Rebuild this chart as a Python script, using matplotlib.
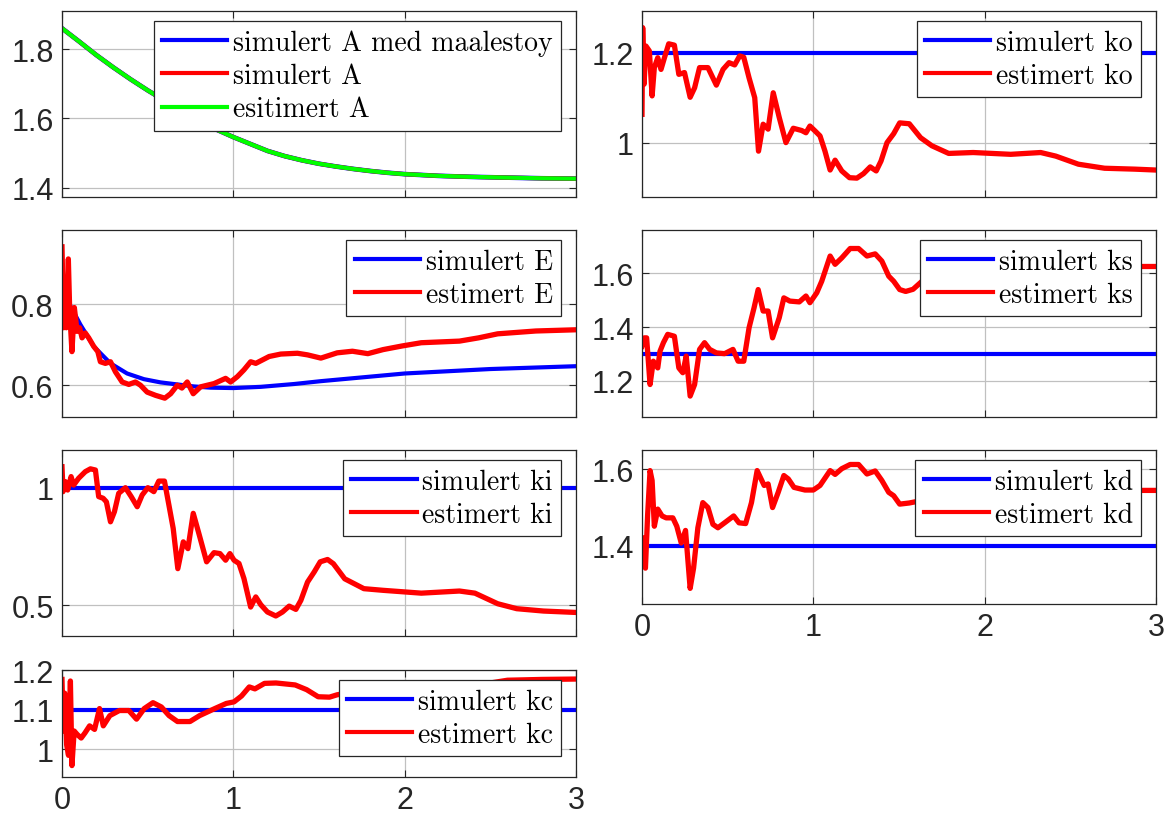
import numpy as np
import matplotlib.pyplot as plt
from matplotlib.ticker import FormatStrFormatter

# ---- data ----
t_A = [0, 0.1, 0.2, 0.3, 0.4, 0.5, 0.6, 0.7, 0.8, 0.9, 1.0, 1.1, 1.2, 1.3, 1.4, 1.5,
       1.6, 1.7, 1.8, 1.9, 2.0, 2.2, 2.4, 2.6, 2.8, 3.0]
A_sim = [1.860, 1.822, 1.783, 1.747, 1.713, 1.681, 1.651, 1.622, 1.594, 1.568, 1.546,
         1.526, 1.506, 1.491, 1.479, 1.469, 1.461, 1.454, 1.448, 1.443, 1.439, 1.434,
         1.431, 1.429, 1.427, 1.426]

t_E_sim = [0, 0.039, 0.107, 0.185, 0.283, 0.38, 0.478, 0.575, 0.672, 0.77, 0.867, 1.0,
           1.16, 1.355, 1.51, 2.0, 2.5, 3.0]
E_sim = [0.83, 0.804, 0.75, 0.696, 0.654, 0.629, 0.615, 0.607, 0.602, 0.597, 0.594,
         0.593, 0.596, 0.603, 0.61, 0.629, 0.640, 0.647]
t_E_est = [0, 0.0097, 0.0195, 0.025, 0.037, 0.045, 0.058, 0.072, 0.088, 0.103, 0.117,
           0.136, 0.156, 0.185, 0.209, 0.224, 0.253, 0.283, 0.312, 0.351, 0.39, 0.429,
           0.458, 0.497, 0.546, 0.60, 0.634, 0.673, 0.70, 0.731, 0.766, 0.809, 0.887,
           0.955, 0.984, 1.023, 1.062, 1.101, 1.131, 1.209, 1.277, 1.374, 1.433, 1.511,
           1.606, 1.695, 1.785, 1.874, 1.985, 2.097, 2.32, 2.431, 2.543, 2.766, 3.0]
E_est = [0.942, 0.742, 0.858, 0.742, 0.912, 0.783, 0.683, 0.792, 0.733, 0.742, 0.717,
         0.729, 0.717, 0.696, 0.683, 0.658, 0.654, 0.658, 0.633, 0.608, 0.602, 0.608,
         0.600, 0.583, 0.575, 0.568, 0.579, 0.600, 0.593, 0.608, 0.579, 0.596, 0.604,
         0.617, 0.608, 0.621, 0.638, 0.658, 0.654, 0.671, 0.677, 0.679, 0.675, 0.667,
         0.680, 0.684, 0.678, 0.688, 0.697, 0.705, 0.709, 0.717, 0.727, 0.734, 0.737]

t_ki = [0, 0.006, 0.019, 0.033, 0.053, 0.068, 0.097, 0.136, 0.166, 0.195, 0.214, 0.24,
        0.259, 0.283, 0.306, 0.331, 0.37, 0.404, 0.439, 0.468, 0.501, 0.536, 0.565,
        0.598, 0.624, 0.649, 0.676, 0.708, 0.735, 0.766, 0.799, 0.844, 0.887, 0.922,
        0.955, 0.98, 1.004, 1.033, 1.062, 1.101, 1.131, 1.16, 1.199, 1.248, 1.287,
        1.326, 1.365, 1.394, 1.433, 1.472, 1.507, 1.55, 1.584, 1.65, 1.762, 1.874,
        2.097, 2.32, 2.41, 2.543, 2.654, 2.81, 3.0]
ki_est = [1.089, 0.983, 1.026, 0.99, 1.047, 1.011, 1.04, 1.068, 1.08, 1.075, 0.962,
          0.955, 0.94, 0.855, 0.898, 0.976, 1.0, 0.962, 0.919, 0.969, 1.0, 0.983, 1.028,
          1.028, 0.926, 0.827, 0.656, 0.77, 0.741, 0.891, 0.805, 0.685, 0.724, 0.72,
          0.692, 0.72, 0.692, 0.678, 0.614, 0.493, 0.536, 0.503, 0.472, 0.455, 0.472,
          0.497, 0.483, 0.521, 0.599, 0.642, 0.685, 0.695, 0.677, 0.613, 0.571, 0.564,
          0.552, 0.561, 0.552, 0.507, 0.486, 0.476, 0.470]

t_kc = [0, 0.007, 0.016, 0.027, 0.038, 0.049, 0.058, 0.071, 0.089, 0.112, 0.134, 0.161,
        0.19, 0.219, 0.241, 0.279, 0.335, 0.39, 0.435, 0.48, 0.531, 0.58, 0.625, 0.674,
        0.747, 0.803, 0.892, 0.959, 1.004, 1.048, 1.093, 1.126, 1.182, 1.249, 1.361,
        1.428, 1.495, 1.561, 1.606, 1.7, 1.9, 2.1, 2.3, 2.5, 2.6, 2.8, 3.0]
kc_est = [1.177, 1.046, 1.142, 1.011, 0.984, 1.173, 0.958, 1.046, 1.037, 1.028, 1.041,
          1.059, 1.05, 1.103, 1.059, 1.085, 1.098, 1.098, 1.076, 1.103, 1.118, 1.107,
          1.085, 1.07, 1.07, 1.085, 1.103, 1.116, 1.12, 1.135, 1.158, 1.153, 1.167,
          1.168, 1.163, 1.151, 1.133, 1.132, 1.138, 1.145, 1.152, 1.155, 1.158, 1.168,
          1.175, 1.177, 1.178]

t_ko = [0, 0.004, 0.012, 0.023, 0.043, 0.059, 0.072, 0.092, 0.111, 0.131, 0.156, 0.189,
        0.215, 0.248, 0.281, 0.307, 0.336, 0.385, 0.434, 0.473, 0.508, 0.541, 0.57,
        0.594, 0.625, 0.658, 0.68, 0.707, 0.736, 0.766, 0.801, 0.84, 0.883, 0.932,
        0.957, 0.98, 1.01, 1.039, 1.068, 1.098, 1.127, 1.166, 1.211, 1.254, 1.293,
        1.332, 1.367, 1.395, 1.43, 1.469, 1.504, 1.56, 1.626, 1.692, 1.79, 1.933,
        2.152, 2.327, 2.415, 2.547, 2.7, 2.876, 3.0]
ko_est = [1.063, 1.256, 1.13, 1.215, 1.204, 1.104, 1.167, 1.189, 1.163, 1.189, 1.22,
          1.217, 1.152, 1.156, 1.101, 1.122, 1.167, 1.167, 1.128, 1.163, 1.178, 1.173,
          1.193, 1.19, 1.144, 1.1, 0.981, 1.041, 1.03, 1.111, 1.056, 1.0, 1.032, 1.027,
          1.022, 1.037, 1.026, 1.015, 0.981, 0.939, 0.961, 0.937, 0.922, 0.921, 0.931,
          0.946, 0.937, 0.959, 1.0, 1.02, 1.044, 1.042, 1.011, 0.993, 0.976, 0.978,
          0.974, 0.978, 0.970, 0.952, 0.943, 0.941, 0.939]

t_ks = [0, 0.014, 0.027, 0.047, 0.066, 0.092, 0.105, 0.125, 0.15, 0.189, 0.215, 0.238,
        0.258, 0.281, 0.307, 0.336, 0.365, 0.395, 0.434, 0.482, 0.531, 0.561, 0.594,
        0.625, 0.654, 0.678, 0.707, 0.736, 0.762, 0.801, 0.828, 0.863, 0.918, 0.957,
        0.98, 1.02, 1.049, 1.098, 1.127, 1.166, 1.215, 1.264, 1.313, 1.361, 1.4, 1.44,
        1.469, 1.504, 1.539, 1.582, 1.65, 1.75, 1.9, 2.1, 2.3, 2.45, 2.6, 2.8, 3.0]
ks_est = [1.329, 1.36, 1.36, 1.186, 1.273, 1.248, 1.31, 1.342, 1.373, 1.366, 1.248,
          1.23, 1.292, 1.143, 1.186, 1.317, 1.342, 1.317, 1.304, 1.301, 1.317, 1.273,
          1.273, 1.398, 1.472, 1.54, 1.46, 1.46, 1.36, 1.435, 1.509, 1.497, 1.494,
          1.516, 1.491, 1.528, 1.571, 1.665, 1.634, 1.658, 1.693, 1.693, 1.665, 1.673,
          1.646, 1.59, 1.571, 1.54, 1.533, 1.541, 1.58, 1.60, 1.61, 1.61, 1.61, 1.615,
          1.622, 1.626, 1.626]

t_kd = [0, 0.008, 0.02, 0.033, 0.047, 0.059, 0.072, 0.092, 0.117, 0.141, 0.18, 0.203,
        0.229, 0.254, 0.281, 0.301, 0.326, 0.355, 0.385, 0.414, 0.443, 0.482, 0.535,
        0.566, 0.605, 0.639, 0.672, 0.713, 0.736, 0.762, 0.795, 0.828, 0.854, 0.887,
        0.951, 1.0, 1.039, 1.098, 1.127, 1.166, 1.215, 1.264, 1.313, 1.361, 1.40, 1.44,
        1.469, 1.504, 1.56, 1.65, 1.75, 2.0, 2.3, 2.5, 2.8, 3.0]
kd_est = [1.42, 1.394, 1.341, 1.482, 1.597, 1.571, 1.451, 1.496, 1.478, 1.473, 1.473,
          1.451, 1.407, 1.44, 1.288, 1.341, 1.447, 1.513, 1.5, 1.456, 1.447, 1.46,
          1.478, 1.46, 1.458, 1.513, 1.597, 1.558, 1.562, 1.5, 1.54, 1.584, 1.575,
          1.553, 1.546, 1.546, 1.558, 1.597, 1.587, 1.602, 1.613, 1.613, 1.588, 1.596,
          1.571, 1.54, 1.531, 1.509, 1.512, 1.52, 1.535, 1.54, 1.54, 1.542, 1.545, 1.545]

t_const = [0, 3]
ki_sim = [1.0, 1.0]
kc_sim = [1.1, 1.1]
ko_sim = [1.2, 1.2]
ks_sim = [1.3, 1.3]
kd_sim = [1.4, 1.4]

# ---- figure ----
W, H = 1166, 820
fig = plt.figure(figsize=(W / 100, H / 100), dpi=100)
plt.rcParams['font.family'] = ['Liberation Sans', 'DejaVu Sans']

legend_font = {'family': 'cmr10', 'size': 20}
lw_sim = 3.0
lw_est = 3.8


def make_axes(x0, y0, x1, y1, ylim, yticks, show_x=False):
    # pixel box -> figure fraction
    ax = fig.add_axes([x0 / W, 1 - y1 / H, (x1 - x0) / W, (y1 - y0) / H])
    ax.set_xlim(0, 3)
    ax.set_ylim(*ylim)
    ax.set_xticks([0, 1, 2, 3])
    ax.set_yticks(yticks)
    ax.yaxis.set_major_formatter(FormatStrFormatter('%g'))
    ax.grid(True, color='#c0c0c0', linewidth=0.9)
    ax.set_axisbelow(True)
    ax.tick_params(direction='in', length=5, width=0.8, top=True, right=True,
                   labelsize=22, pad=6, labelcolor='#262626', color='#262626')
    if not show_x:
        ax.tick_params(labelbottom=False)
    for s in ax.spines.values():
        s.set_color('#262626')
        s.set_linewidth(0.9)
    ax._px = (x1 - x0, y1 - y0)
    return ax


def add_legend(ax):
    wpx, hpx = ax._px
    leg = ax.legend(loc='upper right', bbox_to_anchor=(1 - 15 / wpx, 1 - 10 / hpx),
                    borderaxespad=0, prop=legend_font, fancybox=False, framealpha=1,
                    edgecolor='#262626', handlelength=2.35, handletextpad=0.2,
                    borderpad=0.3, labelspacing=0.25)
    leg.get_frame().set_linewidth(0.9)
    for h in leg.get_lines():
        h.set_linewidth(3.0)


axA = make_axes(62, 12, 576, 198, (1.373, 1.91), [1.4, 1.6, 1.8])
axA.plot(t_A, A_sim, color='b', lw=3.4, label='simulert A med maalestoy')
axA.plot(t_A, A_sim, color='r', lw=lw_sim, label='simulert A')
axA.plot(t_A, A_sim, color='#00ff00', lw=lw_sim, label='esitimert A')
add_legend(axA)

axE = make_axes(62, 231, 576, 418, (0.5215, 0.9835), [0.6, 0.8])
axE.plot(t_E_sim, E_sim, color='b', lw=lw_sim, label='simulert E')
axE.plot(t_E_est, E_est, color='r', lw=lw_est, label='estimert E')
add_legend(axE)

axki = make_axes(62, 451, 576, 637, (0.37, 1.16), [0.5, 1])
axki.plot(t_const, ki_sim, color='b', lw=lw_sim, label='simulert ki')
axki.plot(t_ki, ki_est, color='r', lw=lw_est, label='estimert ki')
add_legend(axki)

axkc = make_axes(62, 671, 576, 778, (0.929, 1.201), [1, 1.1, 1.2], show_x=True)
axkc.plot(t_const, kc_sim, color='b', lw=lw_sim, label='simulert kc')
axkc.plot(t_kc, kc_est, color='r', lw=lw_est, label='estimert kc')
add_legend(axkc)

axko = make_axes(642, 12, 1156, 198, (0.879, 1.293), [1, 1.2])
axko.plot(t_const, ko_sim, color='b', lw=lw_sim, label='simulert ko')
axko.plot(t_ko, ko_est, color='r', lw=lw_est, label='estimert ko')
add_legend(axko)

axks = make_axes(642, 231, 1156, 418, (1.065, 1.762), [1.2, 1.4, 1.6])
axks.plot(t_const, ks_sim, color='b', lw=lw_sim, label='simulert ks')
axks.plot(t_ks, ks_est, color='r', lw=lw_est, label='estimert ks')
add_legend(axks)

axkd = make_axes(642, 451, 1156, 605, (1.247, 1.651), [1.4, 1.6], show_x=True)
axkd.plot(t_const, kd_sim, color='b', lw=lw_sim, label='simulert kd')
axkd.plot(t_kd, kd_est, color='r', lw=lw_est, label='estimert kd')
add_legend(axkd)

fig.savefig('out.png', dpi=100)
